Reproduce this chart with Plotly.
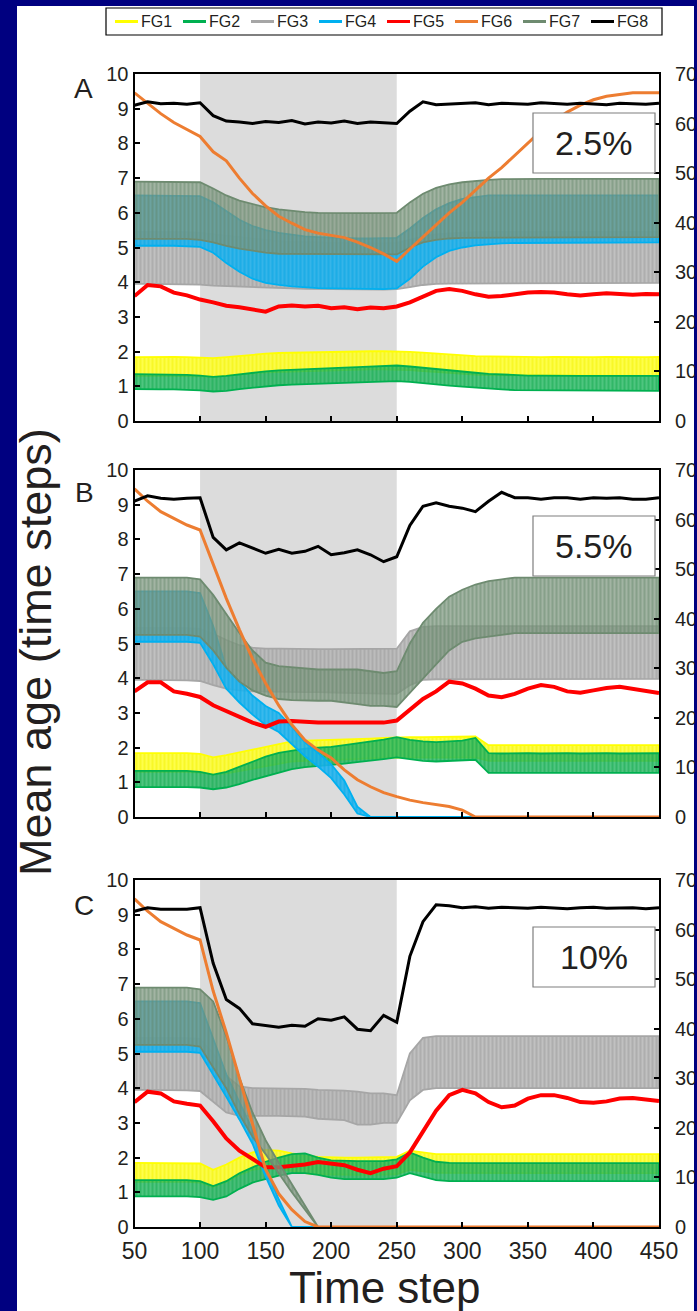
import plotly.graph_objects as go

W, H = 697, 1311
FONT = "Liberation Sans, Arial, sans-serif"
TXT = "#231F20"

# ---------------- data ----------------
T = [50, 60, 70, 80, 90, 100, 110, 120, 130, 140, 150, 160, 170, 180, 190,
     200, 210, 220, 230, 240, 250, 260, 270, 280, 290, 300, 310, 320, 330,
     340, 350, 360, 370, 380, 390, 400, 410, 420, 430, 440, 450]

GROUPS = ["FG1", "FG2", "FG3", "FG4", "FG5", "FG6", "FG7", "FG8"]
PANEL_LABELS = ["A", "B", "C"]
PANEL_RATES = ["2.5%", "5.5%", "10%"]
X_TICKS = [50, 100, 150, 200, 250, 300, 350, 400, 450]
Y_TICKS = [0, 1, 2, 3, 4, 5, 6, 7, 8, 9, 10]
Y2_TICKS = [0, 10, 20, 30, 40, 50, 60, 70]
DISTURB_START, DISTURB_END = 100, 250

# ---- Panel A (2.5%) ; bands = min/max of oscillating series (left axis)
A_FG1_LO = [1.30,1.31,1.32,1.31,1.30, 1.29,1.27,1.30,1.34,1.37, 1.40,1.42,1.44,1.45,1.46, 1.47,1.48,1.48,1.49,1.49, 1.49,1.47,1.44,1.41,1.38, 1.36,1.34,1.32,1.31,1.30, 1.30,1.30,1.30,1.30,1.30, 1.30,1.30,1.30,1.30,1.30, 1.30]
A_FG1_HI = [1.84,1.85,1.86,1.85,1.84, 1.83,1.81,1.84,1.88,1.91, 1.94,1.96,1.97,1.98,1.99, 2.00,2.00,2.01,2.01,2.01, 2.01,1.99,1.97,1.94,1.91, 1.89,1.87,1.86,1.85,1.84, 1.85,1.84,1.85,1.84,1.85, 1.84,1.85,1.84,1.85,1.84, 1.85]
A_FG2_LO = [0.92,0.92,0.91,0.91,0.90, 0.88,0.85,0.87,0.92,0.97, 1.00,1.03,1.05,1.07,1.09, 1.10,1.11,1.12,1.13,1.14, 1.15,1.13,1.10,1.06,1.02, 0.99,0.96,0.93,0.91,0.89, 0.88,0.88,0.87,0.87,0.87, 0.87,0.87,0.87,0.87,0.87, 0.87]
A_FG2_HI = [1.35,1.35,1.34,1.34,1.33, 1.31,1.27,1.30,1.35,1.40, 1.43,1.46,1.48,1.50,1.52, 1.53,1.54,1.55,1.56,1.58, 1.60,1.57,1.53,1.49,1.45, 1.42,1.39,1.36,1.34,1.32, 1.31,1.31,1.30,1.30,1.30, 1.30,1.30,1.30,1.30,1.30, 1.30]
A_FG3_LO = [3.95,3.95,3.95,3.95,3.94, 3.93,3.90,3.88,3.86,3.85, 3.84,3.83,3.82,3.81,3.80, 3.80,3.79,3.79,3.79,3.79, 3.80,3.86,3.92,3.95,3.96, 3.97,3.98,3.98,3.98,3.98, 3.98,3.98,3.98,3.98,3.98, 3.98,3.98,3.98,3.98,3.98, 3.98]
A_FG3_HI = [5.45,5.45,5.45,5.45,5.44, 5.42,5.38,5.33,5.28,5.24, 5.20,5.18,5.16,5.15,5.14, 5.13,5.12,5.12,5.12,5.12, 5.13,5.22,5.32,5.38,5.41, 5.43,5.44,5.45,5.45,5.45, 5.45,5.45,5.45,5.45,5.45, 5.45,5.45,5.45,5.45,5.45, 5.45]
A_FG4_LO = [5.05,5.05,5.05,5.05,5.04, 5.02,4.85,4.55,4.30,4.10, 3.98,3.92,3.88,3.85,3.83, 3.82,3.80,3.80,3.80,3.80, 3.82,4.10,4.45,4.72,4.90, 5.00,5.06,5.10,5.12,5.13, 5.13,5.14,5.14,5.14,5.14, 5.14,5.15,5.15,5.15,5.15, 5.15]
A_FG4_HI = [6.50,6.50,6.50,6.50,6.50, 6.48,6.30,6.05,5.80,5.62, 5.50,5.42,5.36,5.32,5.30, 5.28,5.27,5.26,5.26,5.26, 5.28,5.55,5.85,6.10,6.28, 6.40,6.46,6.50,6.50,6.50, 6.50,6.50,6.50,6.50,6.50, 6.50,6.50,6.50,6.50,6.50, 6.50]
A_FG7_LO = [5.25,5.25,5.25,5.25,5.25, 5.22,5.15,5.05,4.97,4.90, 4.85,4.82,4.80,4.80,4.80, 4.80,4.80,4.80,4.80,4.80, 4.80,5.00,5.15,5.22,5.26, 5.28,5.30,5.30,5.30,5.30, 5.30,5.30,5.30,5.30,5.30, 5.30,5.30,5.30,5.30,5.30, 5.30]
A_FG7_HI = [6.90,6.90,6.90,6.90,6.90, 6.88,6.70,6.50,6.35,6.25, 6.16,6.10,6.05,6.02,6.00, 5.99,5.99,5.99,5.99,5.99, 6.00,6.30,6.55,6.72,6.82, 6.88,6.92,6.95,6.97,6.98, 6.98,6.98,6.98,6.98,6.98, 6.98,6.98,6.98,6.98,6.98, 6.98]
A_FG5 = [3.60,3.92,3.88,3.70,3.62, 3.50,3.42,3.32,3.28,3.22, 3.15,3.30,3.33,3.30,3.32, 3.25,3.28,3.22,3.27,3.25, 3.30,3.42,3.60,3.75,3.80, 3.75,3.65,3.58,3.60,3.65, 3.70,3.72,3.70,3.65,3.62, 3.65,3.68,3.66,3.64,3.66, 3.65]
# right axis (0-70)
A_FG6 = [66.2,64.1,62.0,60.2,58.8, 57.4,54.3,52.5,49.0,45.9, 43.4,41.3,39.9,38.6,37.9, 37.5,37.0,36.1,35.0,33.7, 32.2,34.7,37.1,39.6,42.0, 44.1,46.6,49.0,51.1,53.6, 56.0,58.5,60.6,62.3,63.7, 64.8,65.5,65.9,66.2,66.2, 66.2]
A_FG8 = [63.7,64.4,64.0,64.1,63.9, 64.2,61.6,60.5,60.3,60.0, 60.4,60.2,60.6,59.9,60.3, 60.1,60.5,60.0,60.3,60.2, 60.0,62.5,64.4,63.8,63.9, 64.0,64.2,63.8,64.1,64.0, 63.9,64.2,64.0,63.9,64.1, 64.0,63.8,64.1,64.0,63.9, 64.1]

# ---- Panel B (5.5%)
B_FG1_LO = [1.30,1.30,1.30,1.30,1.30, 1.28,1.22,1.26,1.33,1.40, 1.46,1.53,1.60,1.63,1.64, 1.64,1.65,1.67,1.69,1.71, 1.73,1.73,1.72,1.72,1.72, 1.72,1.72,1.62,1.62,1.62, 1.62,1.62,1.62,1.62,1.62, 1.62,1.62,1.62,1.62,1.62, 1.62]
B_FG1_HI = [1.84,1.84,1.85,1.84,1.84, 1.82,1.72,1.78,1.86,1.94, 2.02,2.10,2.18,2.20,2.21, 2.21,2.22,2.24,2.26,2.28, 2.30,2.30,2.30,2.30,2.30, 2.30,2.32,2.07,2.07,2.07, 2.07,2.08,2.07,2.07,2.08, 2.07,2.07,2.08,2.07,2.07, 2.07]
B_FG2_LO = [0.86,0.86,0.86,0.86,0.86, 0.85,0.80,0.85,0.95,1.07, 1.17,1.28,1.38,1.44,1.48, 1.50,1.54,1.58,1.62,1.67, 1.72,1.66,1.62,1.60,1.62, 1.63,1.65,1.27,1.26,1.27, 1.27,1.26,1.27,1.27,1.26, 1.27,1.27,1.26,1.27,1.27, 1.27]
B_FG2_HI = [1.33,1.33,1.34,1.33,1.33, 1.30,1.22,1.30,1.45,1.60, 1.74,1.85,1.92,1.97,2.00, 2.02,2.07,2.12,2.17,2.23, 2.30,2.22,2.18,2.16,2.18, 2.20,2.28,1.84,1.83,1.84, 1.84,1.83,1.84,1.84,1.83, 1.84,1.84,1.83,1.84,1.84, 1.84]
B_FG3_LO = [3.95,3.95,3.95,3.95,3.94, 3.92,3.80,3.70,3.65,3.62, 3.60,3.60,3.60,3.60,3.60, 3.60,3.58,3.57,3.56,3.55, 3.55,3.80,3.95,3.97,3.98, 3.98,3.98,3.98,3.98,3.98, 3.98,3.98,3.98,3.98,3.98, 3.98,3.98,3.98,3.98,3.98, 3.98]
B_FG3_HI = [5.45,5.45,5.45,5.45,5.44, 5.42,5.28,5.10,4.95,4.88, 4.85,4.85,4.84,4.84,4.84, 4.84,4.84,4.84,4.84,4.84, 4.85,5.35,5.48,5.50,5.50, 5.50,5.50,5.50,5.50,5.50, 5.50,5.50,5.50,5.50,5.50, 5.50,5.50,5.50,5.50,5.50, 5.50]
B_FG4_LO = [5.05,5.05,5.05,5.05,5.05, 5.02,4.40,3.70,3.30,2.95, 2.65,2.45,2.10,1.75,1.45, 1.12,0.65,0.10,0.00,0.00, 0.00,0.00,0.00,0.00,0.00, 0.00,0.00,0.00,0.00,0.00, 0.00,0.00,0.00,0.00,0.00, 0.00,0.00,0.00,0.00,0.00, 0.00]
B_FG4_HI = [6.50,6.50,6.50,6.50,6.50, 6.45,5.50,4.30,3.90,3.50, 3.20,3.00,2.60,2.15,1.85, 1.52,1.05,0.30,0.00,0.00, 0.00,0.00,0.00,0.00,0.00, 0.00,0.00,0.00,0.00,0.00, 0.00,0.00,0.00,0.00,0.00, 0.00,0.00,0.00,0.00,0.00, 0.00]
B_FG7_LO = [5.25,5.25,5.25,5.25,5.25, 5.20,4.80,4.30,3.90,3.65, 3.50,3.40,3.37,3.35,3.35, 3.35,3.30,3.25,3.20,3.20, 3.17,3.60,4.00,4.40,4.80, 5.05,5.15,5.20,5.25,5.30, 5.30,5.30,5.30,5.30,5.30, 5.30,5.30,5.30,5.30,5.30, 5.30]
B_FG7_HI = [6.90,6.90,6.90,6.90,6.90, 6.85,6.40,5.85,5.30,4.80, 4.45,4.35,4.32,4.30,4.25, 4.25,4.25,4.25,4.20,4.15, 4.20,5.00,5.60,6.00,6.35, 6.55,6.70,6.80,6.85,6.90, 6.90,6.90,6.90,6.90,6.90, 6.90,6.90,6.90,6.90,6.90, 6.90]
B_FG5 = [3.62,3.88,3.88,3.62,3.55, 3.46,3.22,3.05,2.88,2.72, 2.60,2.75,2.77,2.74,2.72, 2.72,2.72,2.70,2.70,2.72, 2.78,3.10,3.40,3.62,3.90, 3.85,3.70,3.50,3.45,3.55, 3.70,3.80,3.75,3.62,3.58, 3.65,3.72,3.75,3.68,3.62, 3.57]
B_FG6 = [66.2,63.7,61.6,60.2,58.9, 57.9,51.1,44.1,37.8,31.9, 27.0,22.5,18.6,15.5,13.5, 11.9,9.5,7.5,6.1,4.9, 4.1,3.4,2.9,2.5,2.1, 1.4,0.0,0.0,0.0,0.0, 0.0,0.0,0.0,0.0,0.0, 0.0,0.0,0.0,0.0,0.0, 0.0]
B_FG8 = [63.7,64.8,64.3,64.1,64.3, 64.4,56.4,53.9,55.3,54.3, 53.2,54.0,53.2,53.6,54.6, 52.9,53.3,53.9,52.9,51.5, 52.5,58.8,62.7,63.4,62.7, 62.3,61.6,63.7,65.5,64.4, 64.4,64.1,64.4,64.4,64.1, 64.4,64.3,64.4,64.1,64.1, 64.4]

# ---- Panel C (10%)
C_FG1_LO = [1.30,1.30,1.30,1.30,1.30, 1.28,1.15,1.30,1.50,1.65, 1.70,1.68,1.62,1.55,1.52, 1.50,1.50,1.50,1.50,1.50, 1.52,1.65,1.60,1.56,1.55, 1.55,1.55,1.55,1.55,1.55, 1.55,1.55,1.55,1.55,1.55, 1.55,1.55,1.55,1.55,1.55, 1.55]
C_FG1_HI = [1.85,1.85,1.85,1.85,1.85, 1.83,1.65,1.80,2.00,2.15, 2.22,2.20,2.12,2.05,2.02, 2.00,2.00,2.00,2.00,2.00, 2.02,2.20,2.15,2.10,2.10, 2.10,2.10,2.10,2.10,2.10, 2.10,2.10,2.10,2.10,2.10, 2.10,2.10,2.10,2.10,2.10, 2.10]
C_FG2_LO = [0.88,0.88,0.88,0.88,0.88, 0.86,0.78,0.88,1.10,1.28, 1.38,1.48,1.55,1.55,1.50, 1.42,1.38,1.38,1.38,1.38, 1.42,1.55,1.45,1.35,1.32, 1.32,1.32,1.32,1.32,1.32, 1.32,1.32,1.32,1.32,1.32, 1.32,1.32,1.32,1.32,1.32, 1.32]
C_FG2_HI = [1.35,1.35,1.35,1.35,1.35, 1.32,1.18,1.32,1.55,1.72, 1.88,2.00,2.10,2.12,2.00, 1.92,1.90,1.90,1.90,1.90, 1.95,2.15,2.00,1.88,1.85, 1.84,1.84,1.84,1.84,1.84, 1.84,1.84,1.84,1.84,1.84, 1.84,1.84,1.84,1.84,1.84, 1.84]
C_FG3_LO = [3.95,3.95,3.95,3.95,3.94, 3.92,3.60,3.30,3.20,3.20, 3.20,3.20,3.20,3.18,3.12, 3.10,3.08,2.95,2.95,3.00, 3.00,3.65,3.95,4.00,4.00, 4.00,4.00,4.00,4.00,4.00, 4.00,4.00,4.00,4.00,4.00, 4.00,4.00,4.00,4.00,4.00, 4.00]
C_FG3_HI = [5.45,5.45,5.45,5.45,5.44, 5.42,5.00,4.35,4.05,4.00, 4.00,4.00,4.00,3.98,3.95, 3.95,3.93,3.90,3.85,3.85, 3.80,5.00,5.45,5.50,5.50, 5.50,5.50,5.50,5.50,5.50, 5.50,5.50,5.50,5.50,5.50, 5.50,5.50,5.50,5.50,5.50, 5.50]
C_FG4_LO = [5.05,5.05,5.05,5.05,5.05, 5.02,4.40,3.75,3.10,2.40, 1.45,0.62,0.00,0.00,0.00, 0.00,0.00,0.00,0.00,0.00, 0.00,0.00,0.00,0.00,0.00, 0.00,0.00,0.00,0.00,0.00, 0.00,0.00,0.00,0.00,0.00, 0.00,0.00,0.00,0.00,0.00, 0.00]
C_FG4_HI = [6.50,6.50,6.50,6.50,6.50, 6.45,5.40,4.40,3.60,2.80, 1.70,0.80,0.00,0.00,0.00, 0.00,0.00,0.00,0.00,0.00, 0.00,0.00,0.00,0.00,0.00, 0.00,0.00,0.00,0.00,0.00, 0.00,0.00,0.00,0.00,0.00, 0.00,0.00,0.00,0.00,0.00, 0.00]
C_FG7_LO = [5.25,5.25,5.25,5.25,5.25, 5.20,4.60,4.00,3.25,2.60, 2.10,1.55,1.00,0.50,0.00, 0.00,0.00,0.00,0.00,0.00, 0.00,0.00,0.00,0.00,0.00, 0.00,0.00,0.00,0.00,0.00, 0.00,0.00,0.00,0.00,0.00, 0.00,0.00,0.00,0.00,0.00, 0.00]
C_FG7_HI = [6.90,6.90,6.90,6.90,6.90, 6.85,6.50,5.50,4.30,3.30, 2.50,1.85,1.25,0.62,0.00, 0.00,0.00,0.00,0.00,0.00, 0.00,0.00,0.00,0.00,0.00, 0.00,0.00,0.00,0.00,0.00, 0.00,0.00,0.00,0.00,0.00, 0.00,0.00,0.00,0.00,0.00, 0.00]
C_FG5 = [3.60,3.90,3.85,3.62,3.55, 3.50,3.05,2.55,2.20,1.95, 1.72,1.72,1.76,1.80,1.87, 1.82,1.78,1.65,1.55,1.68, 1.75,2.15,2.75,3.35,3.80, 3.95,3.85,3.60,3.45,3.50, 3.70,3.80,3.80,3.72,3.60, 3.58,3.62,3.70,3.72,3.68, 3.63]
C_FG6 = [66.2,63.7,61.6,60.2,58.9, 57.9,47.6,39.2,30.1,20.7, 11.6,6.7,3.5,1.1,0.0, 0.0,0.0,0.0,0.0,0.0, 0.0,0.0,0.0,0.0,0.0, 0.0,0.0,0.0,0.0,0.0, 0.0,0.0,0.0,0.0,0.0, 0.0,0.0,0.0,0.0,0.0, 0.0]
C_FG8 = [63.7,64.4,64.1,64.1,64.1, 64.4,53.2,45.9,44.1,41.0, 40.6,40.3,40.7,40.5,42.0, 41.7,42.4,39.9,39.6,42.7, 41.3,54.6,61.6,65.0,64.8, 64.4,64.6,64.3,64.5,64.4, 64.3,64.5,64.4,64.2,64.4, 64.5,64.3,64.4,64.4,64.2, 64.4]

# ---------------- styles ----------------
COLORS = {"FG1": "#FFFF00", "FG2": "#00B050", "FG3": "#A6A6A6", "FG4": "#00B0F0",
          "FG5": "#FF0000", "FG6": "#ED7D31", "FG7": "#6E8B70", "FG8": "#000000"}
# oscillation texture: dense vertical strokes over a tint
STRIPE_BG = {"FG1": "rgba(255,255,60,0.90)", "FG2": "rgba(40,185,100,0.80)",
             "FG3": "rgba(185,185,185,0.85)", "FG4": "rgba(30,180,240,0.85)",
             "FG7": "rgba(125,152,128,0.70)"}
STRIPE_FG = {"FG1": "#F2F200", "FG2": "#0FA84B", "FG3": "#9A9A9A", "FG4": "#05A8E6",
             "FG7": "#6A8A6E"}

panels = [
    dict(x="x", y="y", y2="y2",
         bands={"FG1": (A_FG1_LO, A_FG1_HI), "FG2": (A_FG2_LO, A_FG2_HI), "FG3": (A_FG3_LO, A_FG3_HI),
                "FG4": (A_FG4_LO, A_FG4_HI), "FG7": (A_FG7_LO, A_FG7_HI)},
         fg5=A_FG5, fg6=A_FG6, fg8=A_FG8),
    dict(x="x2", y="y3", y2="y4",
         bands={"FG1": (B_FG1_LO, B_FG1_HI), "FG2": (B_FG2_LO, B_FG2_HI), "FG3": (B_FG3_LO, B_FG3_HI),
                "FG4": (B_FG4_LO, B_FG4_HI), "FG7": (B_FG7_LO, B_FG7_HI)},
         fg5=B_FG5, fg6=B_FG6, fg8=B_FG8),
    dict(x="x3", y="y5", y2="y6",
         bands={"FG1": (C_FG1_LO, C_FG1_HI), "FG2": (C_FG2_LO, C_FG2_HI), "FG3": (C_FG3_LO, C_FG3_HI),
                "FG4": (C_FG4_LO, C_FG4_HI), "FG7": (C_FG7_LO, C_FG7_HI)},
         fg5=C_FG5, fg6=C_FG6, fg8=C_FG8),
]

for p in panels:
    for k, (lo, hi) in p["bands"].items():
        assert len(lo) == len(T) and len(hi) == len(T), k
    for k in ("fg5", "fg6", "fg8"):
        assert len(p[k]) == len(T), k

fig = go.Figure()


def band(p, g):
    lo, hi = p["bands"][g]
    return go.Scatter(x=T + T[::-1], y=hi + lo[::-1], xaxis=p["x"], yaxis=p["y"],
                      mode="lines", fill="toself", fillcolor=STRIPE_BG[g],
                      fillpattern=dict(shape="|", size=4, solidity=0.55,
                                       fgcolor=STRIPE_FG[g], fillmode="overlay"),
                      line=dict(color=COLORS[g], width=1.8), showlegend=False, hoverinfo="skip")


def line(p, vals, g, yax, width):
    return go.Scatter(x=T, y=vals, xaxis=p["x"], yaxis=yax, mode="lines",
                      line=dict(color=COLORS[g], width=width), showlegend=False, hoverinfo="skip")


for p in panels:
    fig.add_trace(band(p, "FG1"))
    fig.add_trace(band(p, "FG2"))
    fig.add_trace(band(p, "FG3"))
    fig.add_trace(band(p, "FG4"))
    fig.add_trace(line(p, p["fg5"], "FG5", p["y"], 4))
    fig.add_trace(band(p, "FG7"))
    fig.add_trace(line(p, p["fg6"], "FG6", p["y2"], 3))
    fig.add_trace(line(p, p["fg8"], "FG8", p["y2"], 3))


def fx(px):
    return px / W


def fy(py):
    return 1 - py / H


X_DOM = [fx(134.5), fx(659)]
Y_DOMS = [(74, 421), (470, 817), (880, 1227)]

axis_common = dict(showline=True, linecolor="black", linewidth=2, ticks="inside", ticklen=5,
                   tickwidth=1.5, tickcolor="black", showgrid=False, zeroline=False,
                   automargin=False, tickfont=dict(family=FONT, size=20, color=TXT))

layout = dict(width=W, height=H, autosize=False, margin=dict(l=0, r=0, t=0, b=0, pad=0),
              paper_bgcolor="#000080", plot_bgcolor="white", showlegend=False,
              font=dict(family=FONT, color=TXT))

for i, p in enumerate(panels):
    xkey = "xaxis" if i == 0 else f"xaxis{i + 1}"
    ykey = "yaxis" if p["y"] == "y" else "yaxis" + p["y"][1:]
    y2key = "yaxis" + p["y2"][1:]
    top, bot = Y_DOMS[i]
    ydom = [fy(bot), fy(top)]
    layout[xkey] = dict(axis_common, domain=X_DOM, range=[50, 450], tickvals=X_TICKS,
                        anchor=p["y"], mirror=True, showticklabels=(i == 2),
                        tickfont=dict(family=FONT, size=23, color=TXT), ticklabelstandoff=2)
    layout[ykey] = dict(axis_common, domain=ydom, range=[0, 10], tickvals=Y_TICKS,
                        anchor=p["x"], mirror=True)
    layout[y2key] = dict(axis_common, range=[0, 70], tickvals=Y2_TICKS, anchor=p["x"],
                         overlaying=p["y"], side="right", ticklabelstandoff=10)

fig.update_layout(**layout)

shapes = []
# white page area on navy slide
shapes.append(dict(type="rect", xref="paper", yref="paper", x0=fx(17), x1=fx(694), y0=0, y1=fy(6),
                   fillcolor="white", line=dict(width=0), layer="below"))
for p in panels:
    shapes.append(dict(type="rect", xref=p["x"], yref=p["y"], x0=DISTURB_START, x1=DISTURB_END,
                       y0=0, y1=10, fillcolor="#DCDCDC", line=dict(width=0), layer="below"))
# rate boxes
BOX_Y = [(113, 173), (516, 576), (927, 987)]
annotations = []
for i, (t0, t1) in enumerate(BOX_Y):
    shapes.append(dict(type="rect", xref="paper", yref="paper", x0=fx(533), x1=fx(655),
                       y0=fy(t1), y1=fy(t0), fillcolor="white",
                       line=dict(color="#7F7F7F", width=1.2), layer="above"))
    annotations.append(dict(text=PANEL_RATES[i], xref="paper", yref="paper", x=fx(594),
                            y=fy((t0 + t1) / 2), xanchor="center", yanchor="middle", showarrow=False,
                            font=dict(family=FONT, size=34, color=TXT)))
# panel letters
for lab, (lx, ly) in zip(PANEL_LABELS, [(83, 88), (84, 492), (84, 905)]):
    annotations.append(dict(text=lab, xref="paper", yref="paper", x=fx(lx), y=fy(ly),
                            xanchor="center", yanchor="middle", showarrow=False,
                            font=dict(family=FONT, size=28, color=TXT)))
# axis titles
annotations.append(dict(text="Time step", xref="paper", yref="paper", x=fx(385), y=fy(1287),
                        xanchor="center", yanchor="middle", showarrow=False,
                        font=dict(family=FONT, size=44, color=TXT)))
annotations.append(dict(text="Mean age (time steps)", xref="paper", yref="paper", x=fx(36), y=fy(652),
                        xanchor="center", yanchor="middle", textangle=-90, showarrow=False,
                        font=dict(family=FONT, size=45, color=TXT)))
# legend (custom, MATLAB style)
shapes.append(dict(type="rect", xref="paper", yref="paper", x0=fx(106), x1=fx(662), y0=fy(35), y1=fy(8),
                   fillcolor="white", line=dict(color="black", width=1.2), layer="above"))
for i, g in enumerate(GROUPS):
    x0 = 115 + 68 * i
    shapes.append(dict(type="line", xref="paper", yref="paper", x0=fx(x0), x1=fx(x0 + 23),
                       y0=fy(21.5), y1=fy(21.5), line=dict(color=COLORS[g], width=3), layer="above"))
    annotations.append(dict(text=g, xref="paper", yref="paper", x=fx(x0 + 24), y=fy(21.5),
                            xanchor="left", yanchor="middle", showarrow=False,
                            font=dict(family=FONT, size=16, color=TXT)))
# right navy edge (clips right-axis labels like the slide)
shapes.append(dict(type="rect", xref="paper", yref="paper", x0=fx(694.5), x1=1, y0=0, y1=1,
                   fillcolor="#000080", line=dict(width=0), layer="above"))

fig.update_layout(shapes=shapes, annotations=annotations)
fig.write_html("out.html",
               post_script="document.body.style.margin='0';document.body.style.padding='0';"
                           "document.documentElement.style.margin='0';"
                           "document.body.style.overflow='hidden';")
